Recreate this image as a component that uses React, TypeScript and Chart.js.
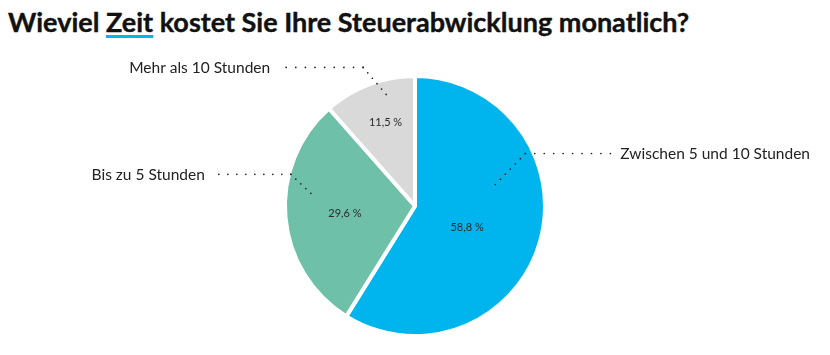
import React, { useEffect, useRef } from "react";
import { Chart, registerables } from "chart.js";

Chart.register(...registerables);

const categories = ["Zwischen 5 und 10 Stunden", "Bis zu 5 Stunden", "Mehr als 10 Stunden"];
const shares = [58.8, 29.6, 11.5];
const valueLabels = ["58,8 %", "29,6 %", "11,5 %"];
const sliceColors = ["#00B5EE", "#6EC1A8", "#D9D9D9"];

// layout of leader lines & inner labels (positions relative to each slice)
const leaderLayout = [
  { frac: 0.354, rFrac: 0.65, dx: 30, dy: -31, hLen: 85, gap: 10, side: 1 },
  { frac: 0.61, rFrac: 0.82, dx: -20, dy: -19, hLen: 72, gap: 14, side: -1 },
  { frac: 0.65, rFrac: 0.9, dx: -23, dy: -27, hLen: 77, gap: 16, side: -1 },
];
const innerLayout = [
  { frac: 0.53, rFrac: 0.44 },
  { frac: 0.49, rFrac: 0.55 },
  { frac: 0.53, rFrac: 0.69 },
];

function dotsAlong(ctx: CanvasRenderingContext2D, x1: number, y1: number, x2: number, y2: number, step: number) {
  const len = Math.hypot(x2 - x1, y2 - y1);
  const n = Math.max(1, Math.round(len / step));
  for (let i = 0; i <= n; i++) {
    const t = i / n;
    const x = x1 + (x2 - x1) * t;
    const y = y1 + (y2 - y1) * t;
    ctx.beginPath();
    ctx.arc(x, y, 0.85, 0, Math.PI * 2);
    ctx.fill();
  }
}

const labelPlugin = {
  id: "pieLabels",
  afterDatasetsDraw(chart: any) {
    const ctx: CanvasRenderingContext2D = chart.ctx;
    const meta = chart.getDatasetMeta(0);
    ctx.save();
    meta.data.forEach((arc: any, i: number) => {
      const p = arc.getProps(["x", "y", "startAngle", "endAngle", "outerRadius"], true);
      const R = p.outerRadius - 2;
      const span = p.endAngle - p.startAngle;
      // inner value label
      const il = innerLayout[i];
      const ia = p.startAngle + span * il.frac;
      ctx.fillStyle = "#2a2a2a";
      ctx.font = "11px Lato, 'Noto Sans', sans-serif";
      ctx.textAlign = "center";
      ctx.textBaseline = "middle";
      ctx.fillText(valueLabels[i], p.x + Math.cos(ia) * R * il.rFrac, p.y + Math.sin(ia) * R * il.rFrac);
      // leader
      const ll = leaderLayout[i];
      const a = p.startAngle + span * ll.frac;
      const ax = p.x + Math.cos(a) * R * ll.rFrac;
      const ay = p.y + Math.sin(a) * R * ll.rFrac;
      const ex = ax + ll.dx;
      const ey = ay + ll.dy;
      const hx = ex + ll.side * ll.hLen;
      ctx.fillStyle = "#222";
      dotsAlong(ctx, ax, ay, ex, ey, 7.5);
      dotsAlong(ctx, ex, ey, hx, ey, 9.5);
      ctx.font = "15.5px Lato, 'Noto Sans', sans-serif";
      ctx.textAlign = ll.side > 0 ? "left" : "right";
      ctx.textBaseline = "middle";
      ctx.fillText(categories[i], hx + ll.side * ll.gap, ey + 1);
    });
    ctx.restore();
  },
};

export default function App() {
  const ref = useRef<HTMLCanvasElement | null>(null);
  useEffect(() => {
    document.body.style.margin = "0";
    const chart = new Chart(ref.current!, {
      type: "pie",
      data: {
        labels: categories,
        datasets: [
          {
            data: shares,
            backgroundColor: sliceColors,
            borderColor: "#ffffff",
            borderWidth: 4,
            hoverOffset: 0,
          },
        ],
      },
      options: {
        animation: false,
        responsive: false,
        layout: { padding: { top: 74, bottom: 17, left: 283, right: 283 } },
        plugins: { legend: { display: false }, tooltip: { enabled: false }, title: { display: false } },
      },
      plugins: [labelPlugin],
    });
    return () => chart.destroy();
  }, []);
  return (
    <div style={{ position: "relative", width: 830, height: 355, background: "#fff" }}>
      <div
        style={{
          position: "absolute",
          left: 8,
          top: 5,
          fontFamily: "Lato, 'Noto Sans', sans-serif",
          fontWeight: 700,
          fontSize: 27,
          color: "#111",
          whiteSpace: "nowrap",
          lineHeight: "34px",
          WebkitTextStroke: "0.4px #111",
        }}
      >
        Wieviel{" "}
        <span
          style={{
            textDecorationLine: "underline",
            textDecorationColor: "#00B5EE",
            textDecorationThickness: 3,
            textUnderlineOffset: 3,
          }}
        >
          Zeit
        </span>{" "}
        kostet Sie Ihre Steuerabwicklung monatlich?
      </div>
      <canvas ref={ref} width={830} height={355} style={{ position: "absolute", left: 0, top: 0 }} />
    </div>
  );
}
